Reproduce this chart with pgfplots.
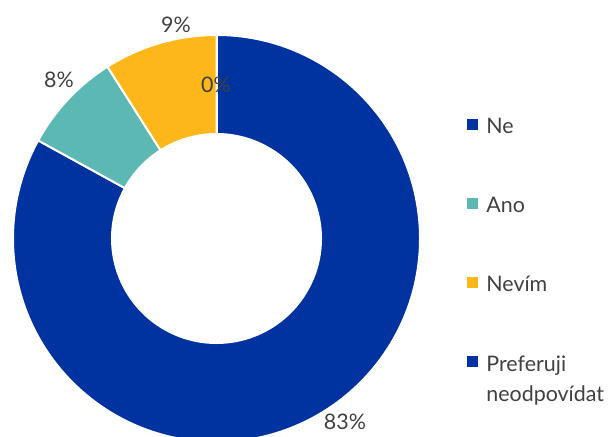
\documentclass[border=0pt]{standalone}
\usepackage{pgfplots}
\pgfplotsset{compat=1.18}
\usepackage{fontspec}
\setmainfont{Lato}
\definecolor{cNe}{RGB}{0,51,160}
\definecolor{cAno}{RGB}{91,184,178}
\definecolor{cNevim}{RGB}{253,183,26}
\definecolor{cPref}{RGB}{0,51,160}
\definecolor{txt}{RGB}{64,64,64}
% donut ring: outer and inner radius (bp)
\def\Rout{203.5}
\def\Rin{104.5}
% \slice{start %}{value %}{colour}
\newcommand{\slice}[3]{\pgfplotsextra{%
  \pgfmathsetmacro\sa{90-3.6*#1}%
  \pgfmathsetmacro\sb{90-3.6*(#1+#2)}%
  \fill[#3, draw=white, line width=2bp]
    (axis cs:{\Rout*cos(\sa)},{\Rout*sin(\sa)})
    arc[start angle=\sa, end angle=\sb, radius=\Rout bp]
    -- (axis cs:{\Rin*cos(\sb)},{\Rin*sin(\sb)})
    arc[start angle=\sb, end angle=\sa, radius=\Rin bp] -- cycle;
}}
\begin{document}
\begin{tikzpicture}
\begin{axis}[
    x=1bp, y=1bp,
    xmin=-216.5, xmax=392.5,
    ymin=-198.5, ymax=238.5,
    hide axis, disabledatascaling,
    legend image code/.code={\fill[#1] (0bp,-1bp) rectangle (10bp,9bp);},
    legend cell align=left,
    legend style={draw=none, fill=none, inner sep=0pt, outer sep=0pt,
        at={(axis cs:250.5,119.5)}, anchor=north west,
        column sep=9bp, row sep=60bp,
        font=\fontsize{21.5}{31}\selectfont, text=txt,
        nodes={inner sep=0pt, text height=15bp, text depth=4bp}},
]
\slice{0}{83}{cNe}
\slice{83}{8}{cAno}
\slice{91}{9}{cNevim}
\slice{100}{0}{cPref}
\addlegendimage{cNe}\addlegendentry{Ne}
\addlegendimage{cAno}\addlegendentry{Ano}
\addlegendimage{cNevim}\addlegendentry{Nevím}
\addlegendimage{cPref}\addlegendentry{\begin{tabular}[t]{@{}l@{}}Preferuji\\neodpovídat\end{tabular}}
\begin{scope}[every node/.style={font=\fontsize{21.5}{25}\selectfont, text=txt}]
\node at (axis cs:128.5,-183.5) {83\%};
\node at (axis cs:-157.5,158.5) {8\%};
\node at (axis cs:-40.5,213.5) {9\%};
\node at (axis cs:-0.5,153.5) {0\%};
\end{scope}
\end{axis}
\pgfresetboundingbox
\useasboundingbox (current axis.south west) rectangle (current axis.north east);
\end{tikzpicture}
\end{document}
